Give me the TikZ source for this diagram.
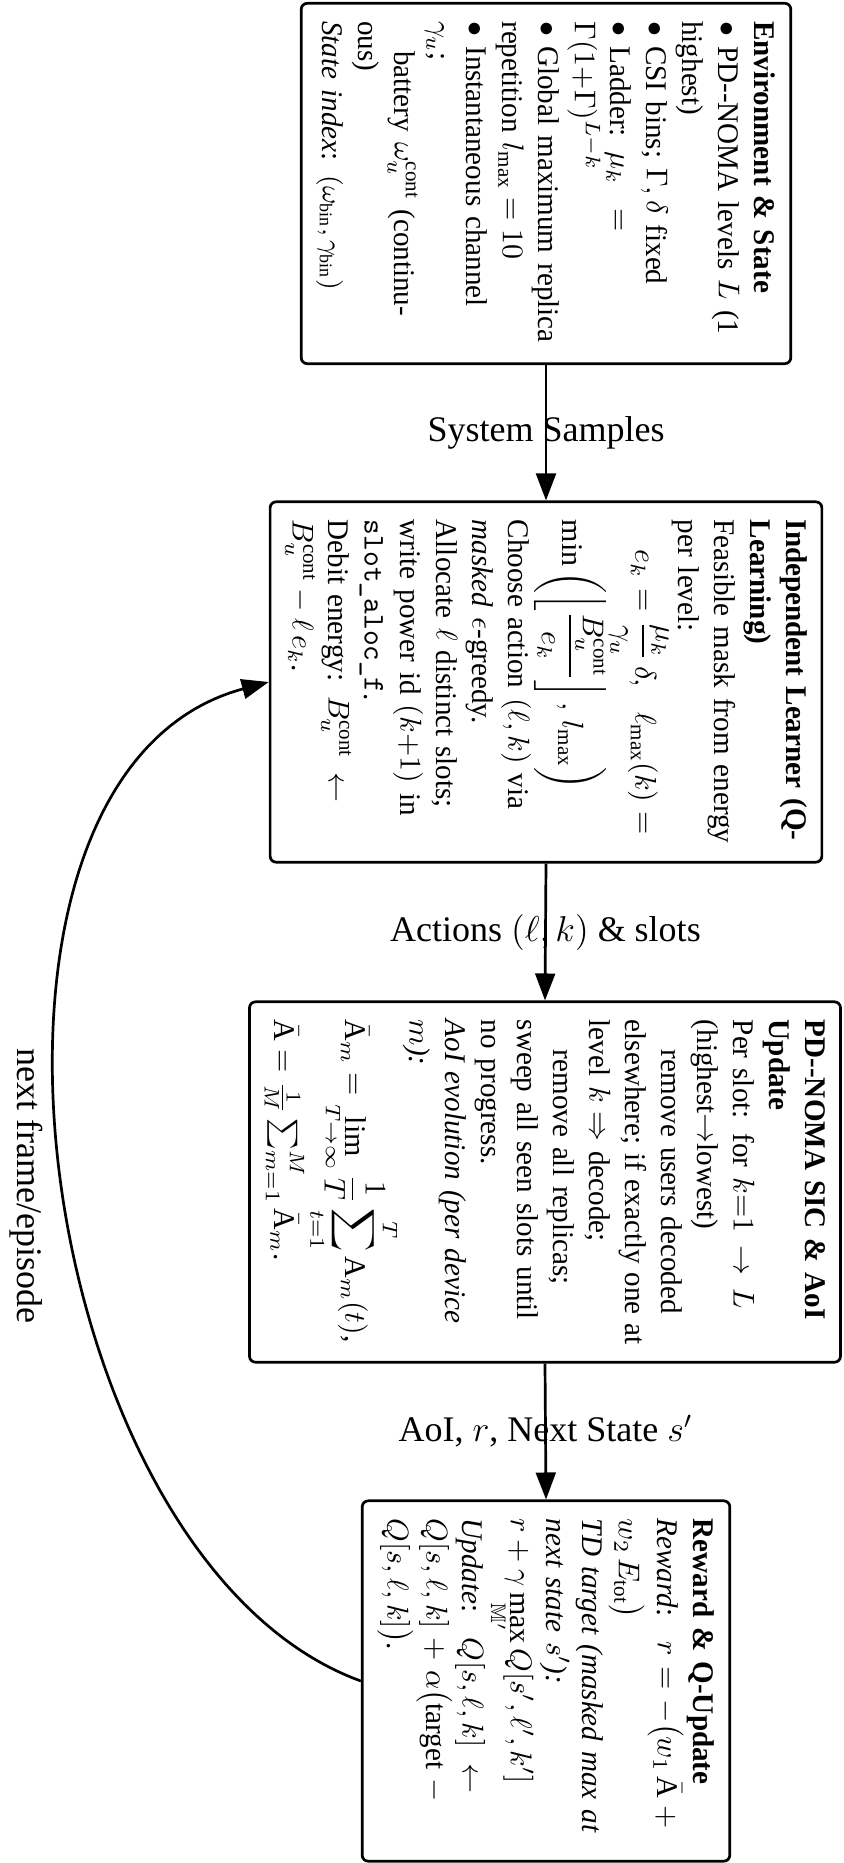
\documentclass[tikz,border=0pt]{standalone}
\usepackage{amsmath,amssymb}
\usepackage{fontspec}
\setmainfont{Liberation Serif}
\newfontfamily\boxfont{Liberation Serif}[FakeStretch=0.97]
\newfontfamily\labelfont{Liberation Serif}
\usetikzlibrary{arrows.meta}

% bullet for list items, and a line set flush to both margins
\newcommand{\itembul}{$\bullet$~}
\newcommand{\fullline}[1]{\hbox to\linewidth{\spaceskip=0pt\relax #1}}

\begin{document}
\begin{tikzpicture}[x=0.33333pt, y=0.33333pt,
  stagebox/.style={draw, line width=0.9pt, rounded corners=2pt, rotate=-90,
    text width=3.8cm, align=left, inner xsep=6pt, inner ysep=5pt,
    font=\boxfont\fontsize{10pt}{12pt}\selectfont},
  flow/.style={line width=0.9pt, -{Triangle[length=9pt,width=6.6pt]}},
  flowlabel/.style={font=\labelfont\large}]
\useasboundingbox (0,0) rectangle (843,-1863);

% processing stages, stacked top to bottom, text turned clockwise
\node[stagebox] (env) at (546,-183.5) {%
\textbf{Environment \& State}\\
\itembul PD--NOMA levels $L$ (1\linebreak highest)\\
\itembul CSI bins; $\Gamma,\delta$ fixed\\
\itembul Ladder: $\mu_k=$\linebreak$\Gamma(1{+}\Gamma)^{L-k}$\\
\itembul Global maximum replica\linebreak repetition $l_{\max}=10$\\
\itembul Instantaneous channel\\
$\gamma_u$;\\
\hspace*{1em}battery $\omega_u^{\mathrm{cont}}$ (continu-\linebreak ous)\\
\textit{State index}: {\small$(\omega_{\mathrm{bin}},\gamma_{\mathrm{bin}})$}};

\node[stagebox] (learner) at (546,-682) {%
\textbf{Independent Learner (Q-\linebreak Learning)}\\
Feasible mask from energy\linebreak per level:\\
\hspace*{1em}$\displaystyle e_k=\frac{\mu_k}{\gamma_u}\,\delta,\ \ \ell_{\max}(k)=$\linebreak
$\displaystyle\min\left(\left\lfloor\frac{B_u^{\mathrm{cont}}}{e_k}\right\rfloor,\,l_{\max}\right)$\\
Choose action $(\ell,k)$ via\linebreak\textit{masked} $\epsilon$-greedy.\\
Allocate $\ell$ distinct slots;\linebreak write power id $(k{+}1)$ in\linebreak\texttt{slot\_aloc\_f}.\\
Debit energy: $B_u^{\mathrm{cont}}\leftarrow$\linebreak$B_u^{\mathrm{cont}}-\ell\,e_k$.};

\node[stagebox] (sic) at (545,-1182) {%
\textbf{PD--NOMA SIC \& AoI\linebreak Update}\\
Per slot: for $k{=}1\to L$\linebreak(highest$\to$lowest)\\
\hspace*{1em}remove users decoded\linebreak
\fullline{elsewhere; if exactly one at}\linebreak level $k\Rightarrow$ decode;\\
\hspace*{1em}remove all replicas;\\
sweep all seen slots until\linebreak no progress.\\
\textit{AoI evolution (per device\linebreak $m$):}\\
$\displaystyle\bar{\mathrm{A}}_m=\lim_{T\to\infty}\frac{1}{T}\sum_{t=1}^{T}\mathrm{A}_m(t)$,\\
$\bar{\mathrm{A}}=\frac{1}{M}\sum_{m=1}^{M}\bar{\mathrm{A}}_m$.};

\node[stagebox] (reward) at (546,-1681) {%
\textbf{Reward \& Q-Update}\\
\textit{Reward}:~ $r=-\bigl(w_1\,\bar{\mathrm{A}}\mskip\medmuskip+$\linebreak$w_2\,E_{\mathrm{tot}}\bigr)$\\
\textit{TD target (masked max at\linebreak next state $s'$):}\\
$r+\gamma\max\limits_{\mathbb{M}'}Q[s',\ell',k']$\\
\textit{Update}:~ $Q[s,\ell,k]\leftarrow$\linebreak$Q[s,\ell,k]+\alpha\bigl(\text{target}\mskip\medmuskip-$\linebreak$Q[s,\ell,k]\bigr)$.};

% forward flow
\draw[flow] (env.east) -- node[flowlabel] {System Samples} (learner.west);
\draw[flow] (learner.east) -- node[flowlabel] {Actions $(\ell,k)$ \& slots} (sic.west);
\draw[flow] (sic.east) -- node[flowlabel] {AoI, $r$, Next State $s'$} (reward.west);

% feedback loop
\draw[flow] (reward.south) to[out=160, in=195, looseness=0.9] (learner.south);
\node[flowlabel, rotate=-90] (looplabel) at (26,-1186) {next frame/episode};
\end{tikzpicture}
\end{document}
